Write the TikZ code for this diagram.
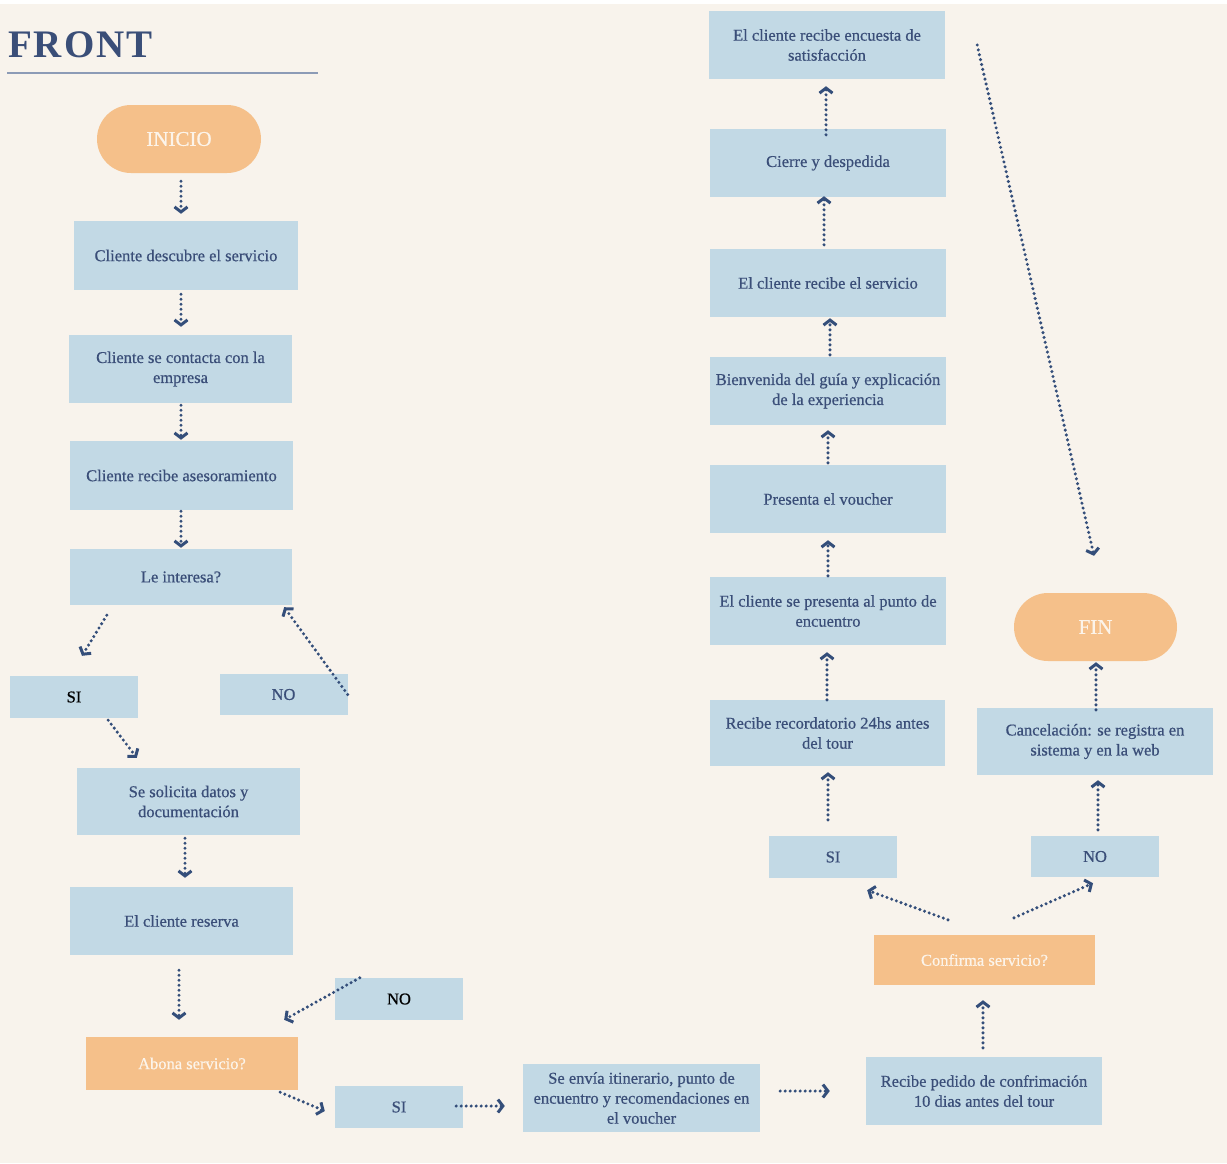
\documentclass[tikz,border=0pt]{standalone}
\usepackage{fontspec}
\setmainfont{Liberation Serif}
\usepackage{xcolor}
\usepackage{tikz}
\usetikzlibrary{arrows.meta, positioning, calc, shapes}

\definecolor{paper}{RGB}{248,243,236}
\definecolor{boxblue}{RGB}{194,217,229}
\definecolor{peach}{RGB}{245,192,138}
\definecolor{inkblue}{RGB}{58,78,120}
\definecolor{arrowblue}{RGB}{52,78,122}
\definecolor{ruleblue}{RGB}{140,155,182}
\definecolor{cream}{RGB}{252,244,234}

\begin{document}
\begin{tikzpicture}[x=1pt, y=-1pt,
		box/.style={fill=boxblue, text=inkblue, inner sep=0pt, align=center,
			minimum width=236pt, minimum height=68pt,
			font=\fontsize{16.5}{20}\selectfont\addfontfeature{FakeBold=0.6}},
		small/.style={box, minimum width=128pt, minimum height=42pt},
		question/.style={box, fill=peach, text=cream},
		pill/.style={fill=peach, text=cream, rounded corners=34pt, inner sep=0pt,
			minimum height=68pt, font=\fontsize{21}{24}\selectfont\addfontfeature{FakeBold=0.6}},
		flow/.style={draw=arrowblue, line width=3.4pt, line cap=round,
			dash pattern=on 0pt off 5pt,
			-{Straight Barb[length=5pt, width=13pt, line width=3pt]}}]
		% Page
		\useasboundingbox (0,0) rectangle (1227,1163);
		\fill[white] (0,0) rectangle (1227,1163);
		\fill[paper] (0,4) rectangle (1227,1163);
		
		% Title
		\node[anchor=base west, inner sep=0pt, text=inkblue,
		font=\fontsize{39}{44}\bfseries\addfontfeature{LetterSpace=5}] (title) at (8,57) {FRONT};
		\draw[ruleblue, line width=1.5pt] (7,73) -- (318,73);
		
		% Left column
		\node[pill, minimum width=164pt] (inicio) at (179,139) {INICIO};
		\node[box, minimum width=224pt, minimum height=69pt] (descubre) at (186,255.5) {Cliente descubre el servicio};
		\node[box, minimum width=223pt] (contacta) at (180.5,369) {Cliente se contacta con la\\empresa};
		\node[box, minimum width=223pt, minimum height=69pt] (asesora) at (181.5,475.5) {Cliente recibe asesoramiento};
		\node[box, minimum width=222pt, minimum height=56pt] (interesa) at (181,577) {Le interesa?};
		\node[small, text=black] (siA) at (74,697) {SI};
		\node[small, minimum height=41pt] (noA) at (283.5,694.5) {NO};
		\node[box, minimum width=223pt, minimum height=67pt] (datos) at (188.5,801.5) {Se solicita datos y\\documentación};
		\node[box, minimum width=223pt] (reserva) at (181.5,921) {El cliente reserva};
		\node[question, minimum width=212pt, minimum height=53pt] (abona) at (192,1063.5) {Abona servicio?};
		\node[small, text=black] (noB) at (399,999) {NO};
		\node[small] (siB) at (399,1107) {SI};
		
		% Bottom row
		\node[box, minimum width=237pt] (envia) at (641.5,1098) {Se envía itinerario, punto de\\encuentro y recomendaciones en\\el voucher};
		\node[box] (pedido) at (984,1091) {Recibe pedido de confrimación\\10 dias antes del tour};
		\node[question, minimum width=221pt, minimum height=50pt] (confirma) at (984.5,960) {Confirma servicio?};
		\node[small] (siC) at (833,857) {SI};
		\node[small, minimum height=41pt] (noC) at (1095,856.5) {NO};
		
		% Right column
		\node[box, minimum width=235pt, minimum height=66pt] (recordatorio) at (827.5,733) {Recibe recordatorio 24hs antes\\del tour};
		\node[box] (presenta) at (828,611) {El cliente se presenta al punto de\\encuentro};
		\node[box] (voucher) at (828,499) {Presenta el voucher};
		\node[box] (bienvenida) at (828,391) {Bienvenida del guía y explicación\\de la experiencia};
		\node[box] (servicio) at (828,283) {El cliente recibe el servicio};
		\node[box] (cierre) at (828,163) {Cierre y despedida};
		\node[box] (encuesta) at (827,45) {El cliente recibe encuesta de\\satisfacción};
		\node[pill, minimum width=163pt] (fin) at (1095.5,627) {FIN};
		\node[box, minimum height=67pt] (cancela) at (1095,741.5) {Cancelación: se registra en\\sistema y en la web};
		
		% Connectors, left column
		\draw[flow] ([shift={(2,8)}]inicio.south) -- ([shift={(-5,-7)}]descubre.north);
		\draw[flow] ([shift={(-5,4)}]descubre.south) -- ([shift={(0.5,-8)}]contacta.north);
		\draw[flow] ([shift={(0.5,2)}]contacta.south) -- ([shift={(-0.5,-1)}]asesora.north);
		\draw[flow] ([shift={(-0.5,1)}]asesora.south) -- ([shift={(0,-1)}]interesa.north);
		\draw[flow] ([shift={(37,10)}]interesa.south west) -- ([shift={(8,-20)}]siA.north);
		\draw[flow] (noA.east) -- ([shift={(-8,2)}]interesa.south east);
		\draw[flow] ([shift={(-30,2)}]siA.south east) -- ([shift={(60,-10)}]datos.north west);
		\draw[flow] ([shift={(-3.5,3)}]datos.south) -- ([shift={(3.5,-9)}]reserva.north);
		\draw[flow] ([shift={(-2.5,15)}]reserva.south) -- ([shift={(-13,-17)}]abona.north);
		\draw[flow] ([shift={(25,0)}]noB.north west) -- ([shift={(-14,-17)}]abona.north east);
		\draw[flow] ([shift={(-18,2)}]abona.south east) -- ([shift={(-10,4)}]siB.west);
		
		% Connectors, bottom row
		\draw[flow] ([shift={(-7,-1)}]siB.east) -- ([shift={(-18,8)}]envia.west);
		\draw[flow] ([shift={(20,-7)}]envia.east) -- ([shift={(-36,0)}]pedido.west);
		\draw[flow] ([shift={(-1,-9)}]pedido.north) -- ([shift={(-1.5,15)}]confirma.south);
		\draw[flow] ([shift={(-36.5,-15)}]confirma.north) -- ([shift={(-30,12)}]siC.south east);
		\draw[flow] ([shift={(29.5,-17)}]confirma.north) -- ([shift={(-2,6)}]noC.south);
		
		% Connectors, right column
		\draw[flow] ([shift={(-5,-16)}]siC.north) -- ([shift={(0.5,6)}]recordatorio.south);
		\draw[flow] ([shift={(-0.5,0)}]recordatorio.north) -- ([shift={(-1,7)}]presenta.south);
		\draw[flow] ([shift={(0,-1)}]presenta.north) -- ([shift={(0,7)}]voucher.south);
		\draw[flow] ([shift={(0,-2)}]voucher.north) -- ([shift={(0,5)}]bienvenida.south);
		\draw[flow] ([shift={(2,-2)}]bienvenida.north) -- ([shift={(2,1)}]servicio.south);
		\draw[flow] ([shift={(-4,-4)}]servicio.north) -- ([shift={(-4,-1)}]cierre.south);
		\draw[flow] ([shift={(-2,6)}]cierre.north) -- ([shift={(-1,7)}]encuesta.south);
		\draw[flow] ([shift={(32,0)}]encuesta.east) -- ([shift={(-1.5,-37)}]fin.north);
		\draw[flow] ([shift={(3,-6)}]noC.north) -- ([shift={(3,5)}]cancela.south);
		\draw[flow] ([shift={(1,2)}]cancela.north) -- ([shift={(0.5,1)}]fin.south);
	\end{tikzpicture}
\end{document}
